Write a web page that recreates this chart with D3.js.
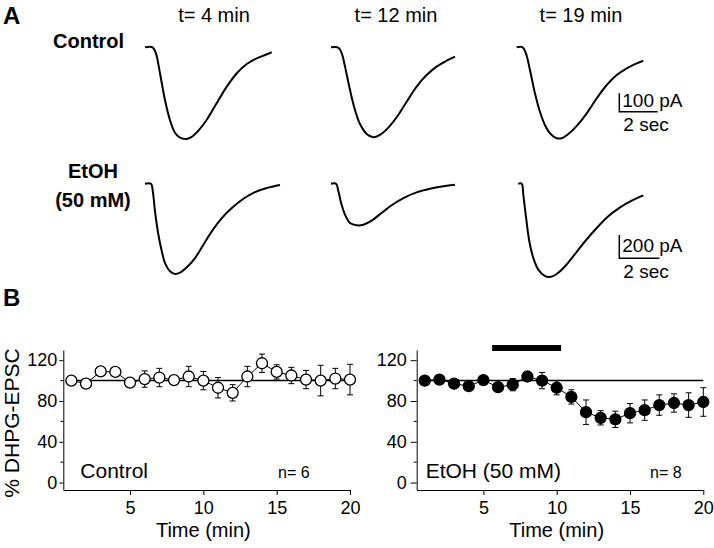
<!DOCTYPE html>
<html><head><meta charset="utf-8">
<script src="https://cdn.jsdelivr.net/npm/d3@7"></script>
<style>
body{margin:0;background:#fff}
svg{display:block}
text{font-family:"Liberation Sans",Arial,Helvetica,sans-serif;fill:#000}
</style>
</head><body>
<svg id="c" width="714" height="548"></svg>
<script>
// ---------- DATA ----------
const traceTimes = ["t= 4 min", "t= 12 min", "t= 19 min"];
// Panel A traces: [time (s), current (pA)]
const ctl4  = [[0,0],[0.40,0],[0.57,-33],[0.78,-141],[1.04,-286],[1.30,-395],[1.56,-464],[1.82,-491],[2.17,-498],[2.43,-487],[2.78,-453],[3.21,-395],[3.73,-304],[4.26,-214],[4.78,-141],[5.30,-91],[5.82,-60],[6.25,-42],[6.60,-27]];
const ctl12 = [[0,0],[0.38,-2],[0.56,-33],[0.73,-105],[0.99,-232],[1.25,-341],[1.51,-417],[1.86,-471],[2.20,-489],[2.55,-476],[2.90,-446],[3.42,-380],[3.94,-296],[4.46,-214],[4.98,-151],[5.50,-105],[6.02,-73],[6.46,-51]];
const ctl19 = [[0,0],[0.31,0],[0.48,-33],[0.69,-123],[0.95,-250],[1.21,-350],[1.47,-422],[1.73,-467],[2.08,-494],[2.34,-494],[2.69,-471],[3.12,-428],[3.65,-359],[4.17,-277],[4.69,-205],[5.21,-151],[5.73,-114],[6.25,-87],[6.59,-73]];
const eto4  = [[0,0],[0.30,0],[0.39,-65],[0.50,-237],[0.67,-438],[0.84,-580],[1.00,-681],[1.25,-752],[1.50,-775],[1.75,-764],[2.09,-718],[2.50,-638],[2.92,-524],[3.34,-409],[3.84,-295],[4.34,-209],[4.92,-129],[5.50,-72],[6.09,-37],[6.75,-11]];
const eto12 = [[0,0],[0.25,0],[0.37,-65],[0.53,-180],[0.70,-266],[0.95,-337],[1.28,-357],[1.62,-352],[2.03,-317],[2.53,-251],[3.03,-185],[3.62,-123],[4.28,-74],[4.95,-43],[5.62,-22],[6.20,-9]];
const eto19 = [[0,0],[0.17,0],[0.25,-94],[0.39,-294],[0.55,-494],[0.75,-637],[1.00,-738],[1.34,-794],[1.59,-800],[1.92,-775],[2.34,-709],[2.84,-603],[3.34,-494],[3.92,-380],[4.50,-280],[5.09,-203],[5.67,-146],[6.25,-100]];
const scaleBarCtl = {pA:100, sec:2, label1:"100 pA", label2:"2 sec"};
const scaleBarEto = {pA:200, sec:2, label1:"200 pA", label2:"2 sec"};

// Panel B
const minutes = [1,2,3,4,5,6,7,8,9,10,11,12,13,14,15,16,17,18,19,20];
const ctlMean = [100,97,109,108.5,98,101.5,103,100.5,104,100,93,88,104,117,108.5,105,101,100,102,101];
const ctlErr  = [2,2,3,3,2,8,9,3,10,9,10,8,10,9,7,8,9,15,10,15];
const etoMean = [100,101,97,94.5,100.5,93.5,96,104,100,93,84,69,63.5,62,68,71,76,78,76,79];
const etoErr  = [2,2,2,2,2,3,6,4,8,7,7,12,7,8,9.5,10,10,9,12,14];
const drugBar = [5.6, 10.3];
const xTicks = [5,10,15,20];
const yTicks = [0,40,80,120];
const yMinor = [20,60,100];

// ---------- DRAW ----------
const svg = d3.select("#c");

svg.append("text").attr("x",3).attr("y",24).attr("font-size",24).attr("font-weight","bold").text("A");
svg.append("text").attr("x",3).attr("y",306).attr("font-size",24).attr("font-weight","bold").text("B");

const colX = [214, 396, 581];
traceTimes.forEach((t,i)=>{
  svg.append("text").attr("x",colX[i]).attr("y",22).attr("text-anchor","middle").attr("font-size",20).text(t);
});
svg.append("text").attr("x",53).attr("y",48).attr("font-size",20).attr("font-weight","bold").text("Control");
svg.append("text").attr("x",93).attr("y",178).attr("text-anchor","middle").attr("font-size",20).attr("font-weight","bold").text("EtOH");
svg.append("text").attr("x",93).attr("y",207).attr("text-anchor","middle").attr("font-size",20).attr("font-weight","bold").text("(50 mM)");

function drawTrace(data, x0, base, pxPerSec, pxPerPA){
  const x = d3.scaleLinear().domain([0,1]).range([x0, x0+pxPerSec]);
  const y = d3.scaleLinear().domain([0,-1]).range([base, base+pxPerPA]);
  const line = d3.line().x(d=>x(d[0])).y(d=>y(d[1])).curve(d3.curveCatmullRom.alpha(0.5));
  svg.append("path").datum(data).attr("d",line).attr("fill","none").attr("stroke","#000").attr("stroke-width",2);
  return {x,y};
}
const ctlPxS = 19.2, ctlPxPA = 0.184;
const etoPxS = 20.0, etoPxPA = 0.1165;
const sCtl = drawTrace(ctl4, 145, 47.3, ctlPxS, ctlPxPA);
drawTrace(ctl12, 331, 47.3, ctlPxS, ctlPxPA);
drawTrace(ctl19, 516.7, 47.3, ctlPxS, ctlPxPA);
const sEto = drawTrace(eto4, 145, 183.7, etoPxS, etoPxPA);
drawTrace(eto12, 331, 183.7, etoPxS, etoPxPA);
drawTrace(eto19, 518.3, 183.7, etoPxS, etoPxPA);

function scaleBar(sb, s, bx, by, ty1, ty2){
  const h = s.y(-sb.pA) - s.y(0);
  const w = s.x(sb.sec) - s.x(0);
  svg.append("path").attr("d",`M${bx},${by-h}V${by}H${bx+w}`).attr("fill","none").attr("stroke","#000").attr("stroke-width",1.5);
  svg.append("text").attr("x",bx+3).attr("y",ty1).attr("font-size",19).text(sb.label1);
  svg.append("text").attr("x",bx+4).attr("y",ty2).attr("font-size",19).text(sb.label2);
}
scaleBar(scaleBarCtl, sCtl, 619.3, 111.7, 107, 131);
scaleBar(scaleBarEto, sEto, 619.3, 258.3, 252, 278);

function plot(x0, x1, mean, err, filled, label, nLabel, nX, tickSz, tickPad){
  const x = d3.scaleLinear().domain([0.45,20]).range([x0,x1]);
  const y = d3.scaleLinear().domain([-7.3,130]).range([490,350]);
  const g = svg.append("g");
  const ax = g.append("g").attr("transform","translate(0,490)")
    .call(d3.axisBottom(x).tickValues(xTicks).tickSize(5).tickSizeOuter(0).tickPadding(6));
  const ay = g.append("g").attr("transform",`translate(${x0},0)`)
    .call(d3.axisLeft(y).tickValues(yTicks).tickSize(tickSz).tickSizeOuter(0).tickPadding(tickPad));
  [ax,ay].forEach(a=>{
    a.selectAll("text").attr("font-size",18).attr("font-family",null).attr("fill","#000");
    a.selectAll("line,path").attr("stroke","#000").attr("stroke-width",1);
  });
  g.selectAll(".minor").data(yMinor).enter().append("line")
    .attr("x1",x0-3).attr("x2",x0).attr("y1",d=>y(d)).attr("y2",d=>y(d)).attr("stroke","#000");
  g.append("line").attr("x1",x(minutes[0])).attr("x2",x(minutes[minutes.length-1]))
    .attr("y1",y(100)).attr("y2",y(100)).attr("stroke","#000").attr("stroke-width",1.5);
  minutes.forEach((m,i)=>{
    const cx = x(m), top = y(mean[i]+err[i]), bot = y(mean[i]-err[i]);
    g.append("path").attr("d",`M${cx},${top}V${bot}M${cx-3},${top}H${cx+3}M${cx-3},${bot}H${cx+3}`)
      .attr("stroke","#000").attr("stroke-width",1).attr("fill","none");
  });
  g.append("path").datum(minutes.map((m,i)=>[m,mean[i]]))
    .attr("d",d3.line().x(d=>x(d[0])).y(d=>y(d[1])))
    .attr("fill","none").attr("stroke","#000").attr("stroke-width",1);
  g.selectAll("circle.pt").data(minutes).enter().append("circle")
    .attr("cx",d=>x(d)).attr("cy",(d,i)=>y(mean[i])).attr("r",5.5)
    .attr("fill",filled?"#000":"#fff").attr("stroke","#000").attr("stroke-width",1.3);
  g.append("text").attr("x",x0+(filled?9:17)).attr("y",478).attr("font-size",21).text(label);
  g.append("text").attr("x",nX).attr("y",478).attr("font-size",16).text(nLabel);
  g.append("text").attr("x",x(10)).attr("y",537).attr("text-anchor","middle").attr("font-size",20).text("Time (min)");
  return {x,y};
}
plot(63.3, 350, ctlMean, ctlErr, false, "Control", "n= 6", 278, 4, 2);
const pr = plot(416.7, 703.3, etoMean, etoErr, true, "EtOH (50 mM)", "n= 8", 650, 6, 4);
svg.append("rect").attr("x",pr.x(drugBar[0])).attr("width",pr.x(drugBar[1])-pr.x(drugBar[0]))
  .attr("y",345).attr("height",6).attr("fill","#000");
svg.append("text").attr("transform","translate(19,423) rotate(-90)").attr("text-anchor","middle")
  .attr("font-size",21).text("% DHPG-EPSC");
</script>
</body></html>
